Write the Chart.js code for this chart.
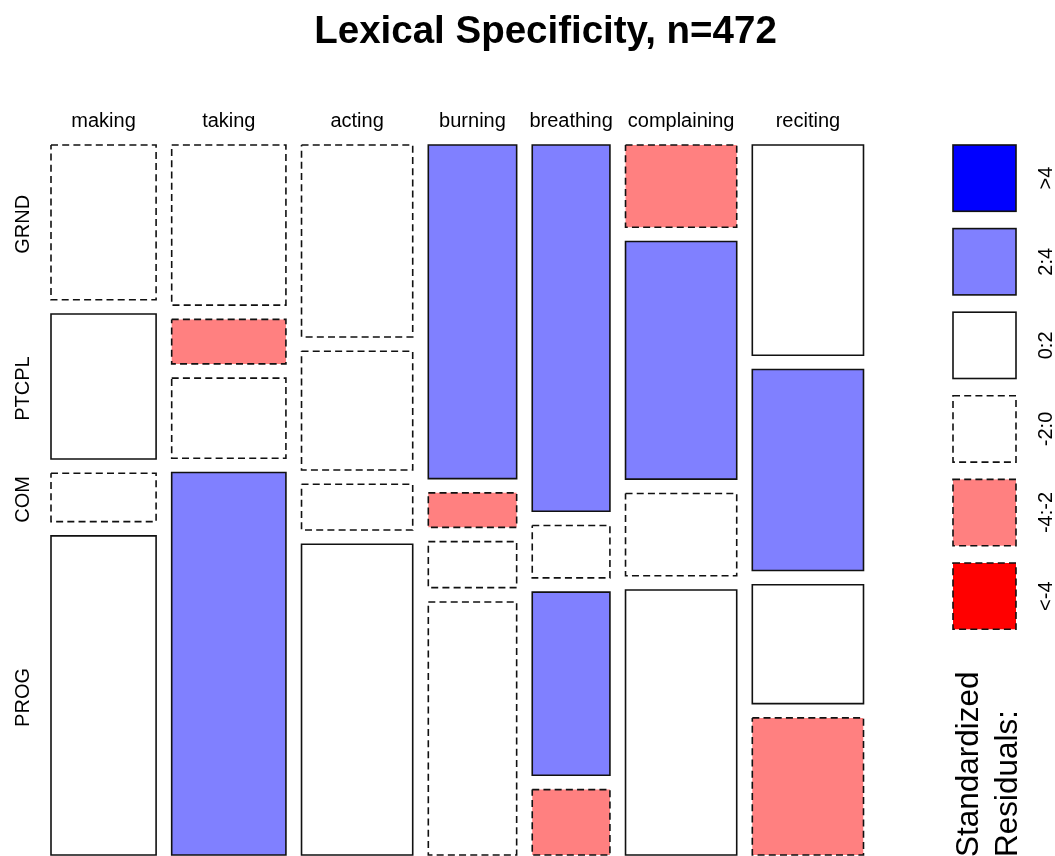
<!DOCTYPE html>
<html>
<head>
<meta charset="utf-8">
<script src="https://cdn.jsdelivr.net/npm/chart.js@4.4.1/dist/chart.umd.min.js"></script>
<style>
  html, body { margin: 0; padding: 0; background: #ffffff; }
  canvas { display: block; }
</style>
</head>
<body>
<canvas id="c" width="1055" height="856"></canvas>
<script>
// ---------------- data ----------------
const chartTitle = 'Lexical Specificity, n=472';
const verbs = ['making', 'taking', 'acting', 'burning', 'breathing', 'complaining', 'reciting'];
const forms = ['GRND', 'PTCPL', 'COM', 'PROG'];

// counts per form (row) for each verb (column)
const grndCounts  = [16, 18, 21, 29, 28,  9, 23];
const ptcplCounts = [15,  5, 13,  3,  4, 26, 22];
const comCounts   = [ 5,  9,  5,  4, 14,  9, 13];
const progCounts  = [33, 43, 34, 22,  5, 29, 15];

// standardized-residual band of each cell, as shaded in the picture
const grndBands  = ['-2:0', '-2:0', '-2:0', '2:4', '2:4', '-4:-2', '0:2'];
const ptcplBands = ['0:2', '-4:-2', '-2:0', '-4:-2', '-2:0', '2:4', '2:4'];
const comBands   = ['-2:0', '-2:0', '-2:0', '-2:0', '2:4', '-2:0', '0:2'];
const progBands  = ['0:2', '2:4', '0:2', '-2:0', '-4:-2', '0:2', '-4:-2'];

const legendBands = ['>4', '2:4', '0:2', '-2:0', '-4:-2', '<-4'];
const legendTitle = ['Standardized', 'Residuals:'];

// ---------------- styles ----------------
const bandStyle = {
  '>4':    { fill: '#0000FF', dashed: false },
  '2:4':   { fill: '#8080FF', dashed: false },
  '0:2':   { fill: '#FFFFFF', dashed: false },
  '-2:0':  { fill: '#FFFFFF', dashed: true },
  '-4:-2': { fill: '#FF8080', dashed: true },
  '<-4':   { fill: '#FF0000', dashed: true }
};
const DASH = [7, 4.2];
const LINE_W = 1.6;
const LINE_C = '#111111';
const FONT = '"Liberation Sans", Arial, Helvetica, sans-serif';

// spacing between tiles (in data units)
const X_GAP = 10.24;   // in count units
const Y_GAP = 0.0214;  // in proportion units

// ---------------- build tiles ----------------
const counts = [grndCounts, ptcplCounts, comCounts, progCounts];
const bands = [grndBands, ptcplBands, comBands, progBands];
const colTotals = verbs.map((v, j) => counts.reduce((s, row) => s + row[j], 0));
const N = colTotals.reduce((a, b) => a + b, 0);
const XMAX = N + X_GAP * (verbs.length - 1);
const YMAX = 1 + Y_GAP * (forms.length - 1);

const datasets = [];
const colCenters = [];
const firstColRowCenters = [];
let xPos = 0;
verbs.forEach((v, j) => {
  const x0 = xPos, x1 = xPos + colTotals[j];
  colCenters.push((x0 + x1) / 2);
  let yPos = 0;
  forms.forEach((f, i) => {
    const p = counts[i][j] / colTotals[j];
    const y0 = yPos, y1 = yPos + p;
    if (j === 0) firstColRowCenters.push((y0 + y1) / 2);
    const st = bandStyle[bands[i][j]];
    datasets.push({
      label: v + ' / ' + f,
      data: [
        { x: x0, y: y0 }, { x: x1, y: y0 }, { x: x1, y: y1 },
        { x: x0, y: y1 }, { x: x0, y: y0 }
      ],
      fill: 'shape',
      backgroundColor: st.fill,
      borderColor: LINE_C,
      borderWidth: LINE_W,
      borderDash: st.dashed ? DASH : [],
      borderCapStyle: st.dashed ? 'butt' : 'square',
      borderJoinStyle: 'miter',
      pointRadius: 0,
      pointHoverRadius: 0,
      tension: 0,
      clip: false
    });
    yPos = y1 + Y_GAP;
  });
  xPos = x1 + X_GAP;
});

// ---------------- text + legend plugin ----------------
const mosaicDecor = {
  id: 'mosaicDecor',
  afterDraw(chart) {
    const ctx = chart.ctx;
    const xs = chart.scales.x, ys = chart.scales.y;
    ctx.save();
    ctx.fillStyle = '#000000';
    ctx.textBaseline = 'alphabetic';

    // title
    ctx.font = 'bold 38.5px ' + FONT;
    ctx.textAlign = 'center';
    ctx.fillText(chartTitle, 545.5, 43);

    // column labels
    ctx.font = '20px ' + FONT;
    colCenters.forEach((c, j) => ctx.fillText(verbs[j], xs.getPixelForValue(c), 127));

    // row labels (rotated)
    firstColRowCenters.forEach((c, i) => {
      ctx.save();
      ctx.translate(29, ys.getPixelForValue(c) + 2);
      ctx.rotate(-Math.PI / 2);
      ctx.textAlign = 'center';
      ctx.fillText(forms[i], 0, 0);
      ctx.restore();
    });

    // legend boxes
    const bx = 953, bw = 63, bh = 66.3, top0 = 145, step = 83.6;
    legendBands.forEach((b, k) => {
      const st = bandStyle[b];
      const by = top0 + k * step;
      ctx.save();
      ctx.fillStyle = st.fill;
      ctx.fillRect(bx, by, bw, bh);
      ctx.strokeStyle = LINE_C;
      ctx.lineWidth = LINE_W;
      ctx.setLineDash(st.dashed ? DASH : []);
      ctx.strokeRect(bx, by, bw, bh);
      ctx.restore();

      ctx.save();
      ctx.fillStyle = '#000000';
      ctx.font = '20px ' + FONT;
      ctx.translate(1052, by + bh / 2);
      ctx.rotate(-Math.PI / 2);
      ctx.textAlign = 'center';
      ctx.fillText(b, 0, 0);
      ctx.restore();
    });

    // legend title (rotated, two lines)
    ctx.font = '31.5px ' + FONT;
    [978, 1016.5].forEach((bxl, k) => {
      ctx.save();
      ctx.translate(bxl, 857);
      ctx.rotate(-Math.PI / 2);
      ctx.textAlign = 'left';
      ctx.fillText(legendTitle[k], 0, 0);
      ctx.restore();
    });

    ctx.restore();
  }
};

new Chart(document.getElementById('c'), {
  type: 'line',
  data: { datasets },
  options: {
    responsive: false,
    animation: false,
    events: [],
    devicePixelRatio: 1,
    layout: { padding: { left: 51, right: 1055 - 863.5, top: 145, bottom: 1 } },
    scales: {
      x: { type: 'linear', min: 0, max: XMAX, display: false },
      y: { type: 'linear', min: 0, max: YMAX, reverse: true, display: false }
    },
    plugins: {
      legend: { display: false },
      title: { display: false },
      tooltip: { enabled: false }
    }
  },
  plugins: [mosaicDecor]
});
</script>
</body>
</html>
